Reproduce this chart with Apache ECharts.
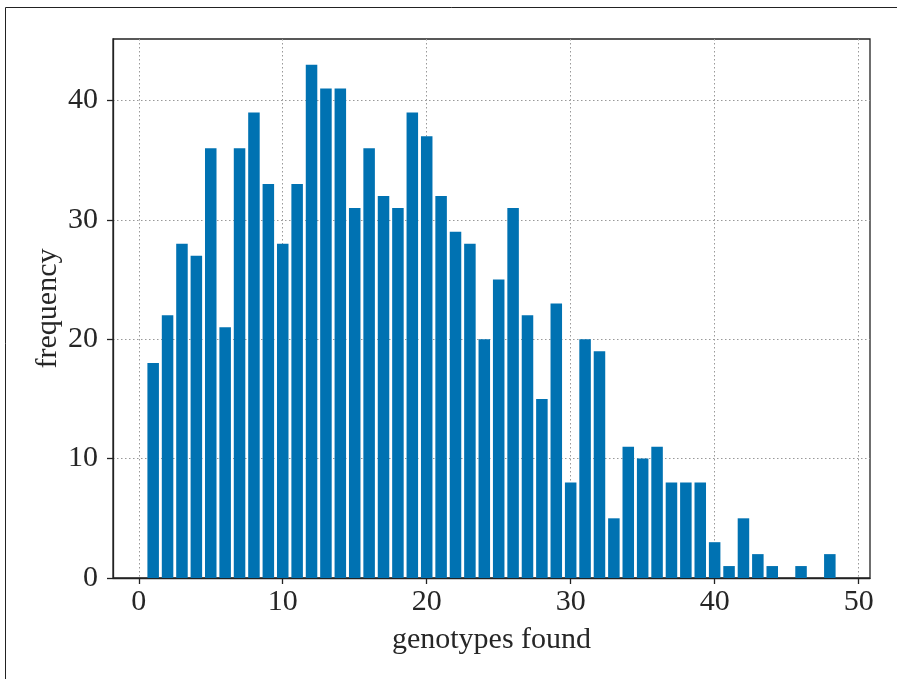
<!DOCTYPE html>
<html lang="en">
<head>
    <meta charset="UTF-8">
    <title>Genotypes found histogram</title>
    <script src="https://cdn.jsdelivr.net/npm/echarts@6/dist/echarts.min.js"></script>
    <style>
        html, body { margin: 0; padding: 0; background: #fff; }
        #main { width: 897px; height: 679px; }
    </style>
</head>
<body>
    <div id="main"></div>
    <script>
        // number of genotypes found (bar centres) and how often each occurred
        var genotypes = [1, 2, 3, 4, 5, 6, 7, 8, 9, 10, 11, 12, 13, 14, 15, 16,
                         17, 18, 19, 20, 21, 22, 23, 24, 25, 26, 27, 28, 29, 30, 31, 32,
                         33, 34, 35, 36, 37, 38, 39, 40, 41, 42, 43, 44, 45, 46, 47, 48];
        var frequency = [18, 22, 28, 27, 36, 21, 36, 39, 33, 28, 33, 43, 41, 41, 31, 36,
                         32, 31, 39, 37, 32, 29, 28, 20, 25, 31, 22, 15, 23, 8, 20, 19,
                         5, 11, 10, 11, 8, 8, 8, 3, 1, 5, 2, 1, 0, 1, 0, 2];
        var xTicks = [0, 10, 20, 30, 40, 50];
        var yTicks = [0, 10, 20, 30, 40];

        var barWidth = 0.8;
        var font = 'Liberation Serif';
        var frameColor = '#222';
        var gridLine = { show: true, lineStyle: { color: '#999', width: 1, type: [1.5, 2.5] } };

        var myChart = echarts.init(document.getElementById('main'));
        var option = {
            animation: false,
            backgroundColor: '#fff',
            graphic: [{
                type: 'rect',
                shape: { x: 5.5, y: 7.5, width: 1000, height: 1000 },
                style: { fill: 'none', stroke: '#222', lineWidth: 1 }
            }],
            grid: {
                left: 113, top: 39, width: 757, height: 539,
                show: true, borderColor: frameColor, borderWidth: 1.3,
                backgroundColor: 'transparent'
            },
            xAxis: {
                type: 'value',
                min: -1.79,
                max: 50.79,
                name: 'genotypes found',
                nameLocation: 'middle',
                nameGap: 47,
                nameMoveOverlap: false,
                nameTextStyle: { fontFamily: font, fontSize: 30, color: '#262626' },
                axisLine: { show: true, onZero: false, lineStyle: { color: frameColor, width: 1.3 } },
                axisTick: { show: true, inside: false, length: 6, customValues: xTicks,
                            lineStyle: { color: frameColor, width: 1.3 } },
                axisLabel: { customValues: xTicks, margin: 9, fontFamily: font, fontSize: 30, color: '#262626' },
                splitLine: gridLine
            },
            yAxis: {
                type: 'value',
                min: 0,
                max: 45.15,
                name: 'frequency',
                nameLocation: 'middle',
                nameGap: 50,
                nameMoveOverlap: false,
                nameTextStyle: { fontFamily: font, fontSize: 30, color: '#262626' },
                axisLine: { show: true, onZero: false, lineStyle: { color: frameColor, width: 1.3 } },
                axisTick: { show: true, inside: false, length: 6, customValues: yTicks,
                            lineStyle: { color: frameColor, width: 1.3 } },
                axisLabel: { customValues: yTicks, margin: 15, fontFamily: font, fontSize: 30, color: '#262626' },
                splitLine: gridLine
            },
            series: [{
                type: 'custom',
                data: genotypes.map(function (g, i) { return [g, frequency[i]]; }),
                renderItem: function (params, api) {
                    var x = api.value(0);
                    var y = api.value(1);
                    var topLeft = api.coord([x - barWidth / 2, y]);
                    var bottomRight = api.coord([x + barWidth / 2, 0]);
                    return {
                        type: 'rect',
                        shape: {
                            x: topLeft[0],
                            y: topLeft[1],
                            width: bottomRight[0] - topLeft[0],
                            height: bottomRight[1] - topLeft[1]
                        },
                        style: { fill: '#0072b2' }
                    };
                }
            }]
        };

        myChart.setOption(option);
    </script>
</body>
</html>
